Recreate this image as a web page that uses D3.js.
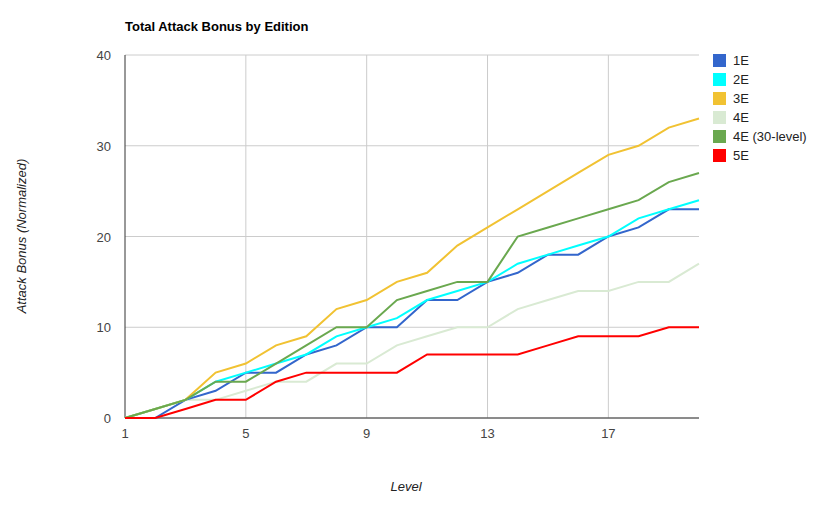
<!DOCTYPE html>
<html><head><meta charset="utf-8">
<script src="https://cdn.jsdelivr.net/npm/d3@7"></script>
<style>body{margin:0;background:#fff;font-family:Arial,"Liberation Sans",sans-serif;}</style>
</head><body><div id="chart"></div>
<script>
var levels = d3.range(1, 21);
var xTicks = [1, 5, 9, 13, 17];
var yTicks = [0, 10, 20, 30, 40];
var seriesNames = ["1E", "2E", "3E", "4E", "4E (30-level)", "5E"];
var seriesColors = ["#3366cc", "#00ffff", "#f1c232", "#d9ead3", "#6aa84f", "#ff0000"];
var e1 = [0,0,2,3,5,5,7,8,10,10,13,13,15,16,18,18,20,21,23,23];
var e2 = [0,1,2,4,5,6,7,9,10,11,13,14,15,17,18,19,20,22,23,24];
var e3 = [0,1,2,5,6,8,9,12,13,15,16,19,21,23,25,27,29,30,32,33];
var e4 = [0,1,2,2,3,4,4,6,6,8,9,10,10,12,13,14,14,15,15,17];
var e4b = [0,1,2,4,4,6,8,10,10,13,14,15,15,20,21,22,23,24,26,27];
var e5 = [0,0,1,2,2,4,5,5,5,5,7,7,7,7,8,9,9,9,10,10];
var seriesValues = [e1, e2, e3, e4, e4b, e5];
var drawOrder = [3, 0, 1, 2, 4, 5];

var svg = d3.select("#chart").append("svg").attr("width", 834).attr("height", 512);
var x = d3.scaleLinear().domain([1, 20]).range([125, 699]);
var y = d3.scaleLinear().domain([0, 40]).range([418, 55]);

svg.append("text").attr("x", 125).attr("y", 31).attr("font-size", "13px")
	.attr("font-weight", "bold").text("Total Attack Bonus by Edition");

// grid
svg.selectAll(".hg").data(yTicks).enter().append("line")
	.attr("x1", 125).attr("x2", 699).attr("y1", d => y(d)).attr("y2", d => y(d))
	.attr("stroke", "#cccccc");
svg.selectAll(".vg").data(xTicks.slice(1)).enter().append("line")
	.attr("x1", d => x(d)).attr("x2", d => x(d)).attr("y1", 55).attr("y2", 418)
	.attr("stroke", "#cccccc");
svg.append("line").attr("x1", 125).attr("x2", 125).attr("y1", 55).attr("y2", 418).attr("stroke", "#333");
svg.append("line").attr("x1", 125).attr("x2", 699).attr("y1", 418).attr("y2", 418).attr("stroke", "#333");

svg.selectAll(".yt").data(yTicks).enter().append("text")
	.attr("x", 111).attr("y", d => y(d) + 5).attr("text-anchor", "end")
	.attr("font-size", "13px").attr("fill", "#444").text(d => d);
svg.selectAll(".xt").data(xTicks).enter().append("text")
	.attr("x", d => x(d)).attr("y", 438).attr("text-anchor", "middle")
	.attr("font-size", "13px").attr("fill", "#444").text(d => d);

svg.append("text").attr("x", 406).attr("y", 491).attr("text-anchor", "middle")
	.attr("font-size", "13px").attr("font-style", "italic").attr("fill", "#222").text("Level");
svg.append("text").attr("transform", "translate(26,236) rotate(-90)").attr("text-anchor", "middle")
	.attr("font-size", "13px").attr("font-style", "italic").attr("fill", "#222").text("Attack Bonus (Normalized)");

var line = d3.line().x((d, i) => x(levels[i])).y(d => y(d));
drawOrder.forEach(function(k){
	svg.append("path").datum(seriesValues[k]).attr("d", line)
		.attr("fill", "none").attr("stroke", seriesColors[k]).attr("stroke-width", 2);
});

var legend = svg.append("g").attr("transform", "translate(713,54)");
seriesNames.forEach(function(n, i){
	var row = legend.append("g").attr("transform", "translate(0," + (i * 19) + ")");
	row.append("rect").attr("width", 13).attr("height", 13).attr("fill", seriesColors[i]);
	row.append("text").attr("x", 20).attr("y", 11).attr("font-size", "13px").attr("fill", "#222").text(n);
});
</script></body></html>
